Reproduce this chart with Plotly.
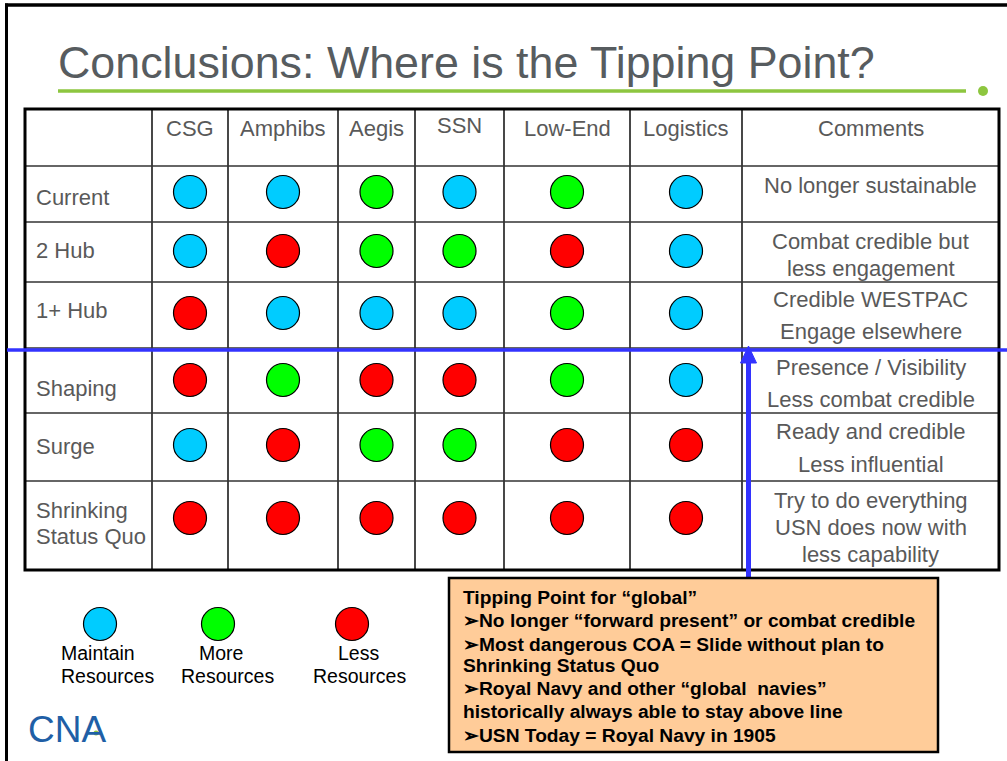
import plotly.graph_objects as go

# ------------------------------------------------------------------ data
title_text = "Conclusions: Where is the Tipping Point?"
columns = ["CSG", "Amphibs", "Aegis", "SSN", "Low-End", "Logistics"]
comments_header = "Comments"
rows = ["Current", "2 Hub", "1+ Hub", "Shaping", "Surge", "Shrinking<br>Status Quo"]
# M = maintain resources, P = more resources, L = less resources
status = [
    ["M", "M", "P", "M", "P", "M"],   # Current
    ["M", "L", "P", "P", "L", "M"],   # 2 Hub
    ["L", "M", "M", "M", "P", "M"],   # 1+ Hub
    ["L", "P", "L", "L", "P", "M"],   # Shaping
    ["M", "L", "P", "P", "L", "L"],   # Surge
    ["L", "L", "L", "L", "L", "L"],   # Shrinking Status Quo
]
comments = [
    ["No longer sustainable"],
    ["Combat credible but", "less engagement"],
    ["Credible WESTPAC", "Engage elsewhere"],
    ["Presence / Visibility", "Less combat credible"],
    ["Ready and credible", "Less influential"],
    ["Try to do everything", "USN does now with", "less capability"],
]
legend_codes = ["M", "P", "L"]
legend_labels = [["Maintain", "Resources"], ["More", "Resources"], ["Less", "Resources"]]
box_lines = [
    "Tipping Point for \u201cglobal\u201d",
    "\u27a2No longer \u201cforward present\u201d or combat credible",
    "\u27a2Most dangerous COA = Slide without plan to",
    "Shrinking Status Quo",
    "\u27a2Royal Navy and other \u201cglobal  navies\u201d",
    "historically always able to stay above line",
    "\u27a2USN Today = Royal Navy in 1905",
]
logo_text = "CNA"

# ------------------------------------------------------------------ layout / style
W, H = 1007, 761
FONT = "Liberation Sans, Arial, Helvetica, sans-serif"
GRAY = "#595959"
COLORS = {"M": "#00CCFF", "P": "#00FF00", "L": "#FF0000"}
BLUE = "#3333FF"

COL_EDGES = [25, 152, 228, 338, 415, 504, 630, 742, 999]
ROW_EDGES = [109, 166, 222, 282, 348, 413, 481, 570]
col_mid = [(COL_EDGES[i] + COL_EDGES[i + 1]) / 2 for i in range(len(COL_EDGES) - 1)]
HEADER_Y = [128, 128, 128, 128, 125, 128, 128, 128]
MARK_Y = [192, 251, 313, 380, 445, 518]
ROW_LABEL_Y = [[197], [250], [310], [388], [446], [510, 536]]
COMMENT_Y = [[185], [241, 268], [299, 331], [367, 399], [431, 464], [500, 527, 554]]
LEG_X = [100, 218, 352]
LEG_Y = 624
LEG_TEXT_POS = [[(59, "left"), (59, "left")],
                [(221, "center"), (227, "center")],
                [(358, "center"), (359, "center")]]
LEG_TEXT_Y = [652.5, 676]
BOX = (449, 578, 938, 752)
BOX_TEXT_Y = [597.7, 620.1, 644.4, 665.1, 688.4, 711.7, 735.1]

fig = go.Figure()

# table circles, drawn from the status matrix
for code in ["M", "P", "L"]:
    xs, ys = [], []
    for r, row in enumerate(status):
        for c, v in enumerate(row):
            if v == code:
                xs.append(col_mid[c + 1])
                ys.append(MARK_Y[r])
    fig.add_trace(go.Scatter(
        x=xs, y=ys, mode="markers", hoverinfo="skip", showlegend=False,
        marker=dict(size=33, color=COLORS[code], line=dict(color="black", width=1.2)),
    ))

# legend circles
fig.add_trace(go.Scatter(
    x=LEG_X, y=[LEG_Y] * len(legend_codes), mode="markers", hoverinfo="skip", showlegend=False,
    marker=dict(size=33, color=[COLORS[c] for c in legend_codes], line=dict(color="black", width=1.2)),
))

shapes = []
def line(x0, y0, x1, y1, color="black", width=1.5, layer="below"):
    shapes.append(dict(type="line", x0=x0, y0=y0, x1=x1, y1=y1, layer=layer,
                       line=dict(color=color, width=width)))

# slide frame
line(6.5, 3.5, 6.5, H, width=3)
line(5, 5, W, 5, width=3.5)
# title underline + dot
line(58, 91, 966, 91, color="#8DC63F", width=3.5)
shapes.append(dict(type="circle", x0=978, y0=86, x1=988, y1=96, layer="below",
                   fillcolor="#8DC63F", line=dict(width=0)))

# table inner lines
for x in COL_EDGES[1:-1]:
    line(x, ROW_EDGES[0], x, ROW_EDGES[-1], color="#1a1a1a", width=1.6)
for y in ROW_EDGES[1:-1]:
    line(COL_EDGES[0], y, COL_EDGES[-1], y, color="#333333", width=1.6)
# table outer border
shapes.append(dict(type="rect", x0=COL_EDGES[0], y0=ROW_EDGES[0], x1=COL_EDGES[-1], y1=ROW_EDGES[-1],
                   layer="below", line=dict(color="black", width=3)))

# tipping line + arrow
line(7, 350, W, 350, color=BLUE, width=3.5, layer="above")
line(748.5, 578, 748.5, 358, color=BLUE, width=5, layer="above")
shapes.append(dict(type="path", path="M 740.5 363 L 748.5 346 L 756.5 363 Z", layer="above",
                   fillcolor=BLUE, line=dict(color=BLUE, width=1)))

# orange box
shapes.append(dict(type="rect", x0=BOX[0], y0=BOX[1], x1=BOX[2], y1=BOX[3], layer="above",
                   fillcolor="#FFCC99", line=dict(color="black", width=2.5)))

ann = []
def text(x, y, s, size=22, color=GRAY, xanchor="center", bold=False):
    ann.append(dict(x=x, y=y, xref="x", yref="y", text=f"<b>{s}</b>" if bold else s,
                    showarrow=False, xanchor=xanchor, yanchor="middle",
                    font=dict(family=FONT, size=size, color=color)))

text(56, 62, title_text, size=44.8, color="#575C5F", xanchor="left")

headers = [""] + columns + [comments_header]
for i, h in enumerate(headers):
    if h:
        text(col_mid[i], HEADER_Y[i], h)

for r, lab in enumerate(rows):
    for k, part in enumerate(lab.split("<br>")):
        text(34, ROW_LABEL_Y[r][k], part, xanchor="left")

for r, lines in enumerate(comments):
    for k, s in enumerate(lines):
        text(col_mid[-1], COMMENT_Y[r][k], s)

for i, labs in enumerate(legend_labels):
    for k, s in enumerate(labs):
        lx, anc = LEG_TEXT_POS[i][k]
        text(lx, LEG_TEXT_Y[k], s, size=19.5, color="black", xanchor=anc)

for i, s in enumerate(box_lines):
    text(461, BOX_TEXT_Y[i], s, size=19.2, color="black", xanchor="left", bold=True)

# logo
text(26, 729, logo_text, size=37, color="#1F5FA6", xanchor="left")
shapes.append(dict(type="circle", x0=93.5, y0=730.5, x1=98.5, y1=735.5, layer="above",
                   fillcolor="#8DC63F", line=dict(width=0)))

fig.update_layout(
    width=W, height=H, autosize=False,
    margin=dict(l=0, r=0, t=0, b=0, pad=0),
    paper_bgcolor="white", plot_bgcolor="white",
    xaxis=dict(range=[0, W], visible=False, fixedrange=True),
    yaxis=dict(range=[H, 0], visible=False, fixedrange=True),
    shapes=shapes, annotations=ann, showlegend=False,
)

fig.write_html("out.html", config={"displayModeBar": False, "staticPlot": True},
               post_script="document.body.style.margin='0';document.body.style.overflow='hidden';")
